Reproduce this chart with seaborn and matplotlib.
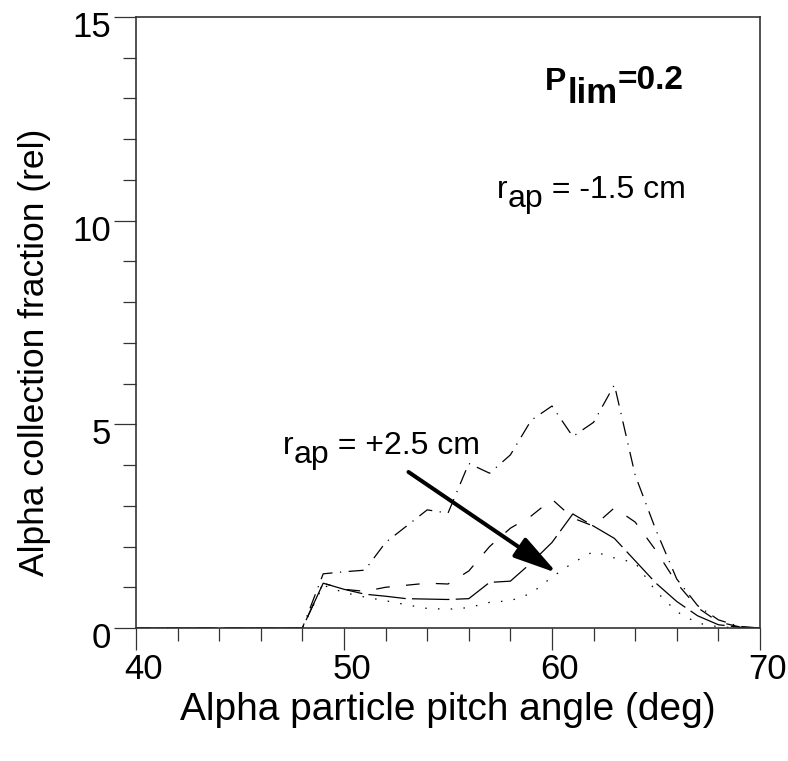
import numpy as np
import pandas as pd
import matplotlib
matplotlib.use("Agg")
import matplotlib.pyplot as plt
import matplotlib.transforms as mtransforms
from matplotlib import font_manager
from matplotlib.ticker import MultipleLocator
import seaborn as sns

# ---- data ----
pitch_angle = [40, 48, 49, 50, 51, 52, 53, 54, 55, 56, 57, 58, 59, 60, 61, 62, 63, 64, 65, 66, 67, 68, 69, 70]
curve_dashdot = [0, 0, 1.33, 1.38, 1.42, 2.1, 2.5, 2.9, 2.82, 4.04, 3.8, 4.25, 5.1, 5.45, 4.7, 5.05, 5.97, 3.75, 2.4, 1.2, 0.55, 0.2, 0.04, 0]
curve_dash = [0, 0, 1.1, 0.95, 0.9, 1.0, 1.05, 1.1, 1.08, 1.4, 2.0, 2.45, 2.75, 3.16, 2.7, 2.5, 2.95, 2.6, 1.9, 1.1, 0.5, 0.15, 0.03, 0]
curve_long = [0, 0, 1.1, 0.95, 0.83, 0.78, 0.72, 0.71, 0.7, 0.72, 1.12, 1.15, 1.6, 2.1, 2.8, 2.5, 2.2, 1.65, 1.1, 0.65, 0.3, 0.08, 0.02, 0]
curve_dot = [0, 0, 1.05, 0.87, 0.76, 0.67, 0.57, 0.48, 0.46, 0.5, 0.63, 0.67, 0.85, 1.25, 1.6, 1.88, 1.72, 1.6, 0.9, 0.4, 0.12, 0.03, 0, 0]
series_names = ["dashdot", "dash", "long", "dot"]

x_label = "Alpha particle pitch angle (deg)"
y_label = "Alpha collection fraction (rel)"

df = pd.concat([
    pd.DataFrame({"angle": pitch_angle, "frac": vals, "series": name})
    for name, vals in zip(series_names, [curve_dashdot, curve_dash, curve_long, curve_dot])
], ignore_index=True)

# ---- style ----
sns.set_style("ticks")
names = {f.name for f in font_manager.fontManager.ttflist}
main_font = "Liberation Sans" if "Liberation Sans" in names else "DejaVu Sans"
plt.rcParams["font.family"] = [main_font, "DejaVu Sans"]
plt.rcParams.update({"text.color": "black", "axes.labelcolor": "black",
                     "xtick.color": "black", "ytick.color": "black"})

fig = plt.figure(figsize=(7.88, 7.61), dpi=100)
ax = fig.add_axes([136 / 788, 1 - 628 / 761, 624 / 788, 611 / 761])

sns.lineplot(data=df, x="angle", y="frac", style="series", ax=ax,
             dashes={"dashdot": (12, 6, 1, 6), "dash": (11, 13), "long": (30, 5), "dot": (1.2, 9)},
             color="black", linewidth=0.9, legend=False, sort=False)

ax.set_xlim(40, 70)
ax.set_ylim(0, 15)
ax.xaxis.set_major_locator(MultipleLocator(10))
ax.xaxis.set_minor_locator(MultipleLocator(2))
ax.yaxis.set_major_locator(MultipleLocator(5))
ax.yaxis.set_minor_locator(MultipleLocator(1))
ax.tick_params(which="major", direction="out", length=16, width=0.9, color="#333333",
               labelsize=25, pad=2)
ax.tick_params(which="minor", direction="out", length=9.5, width=0.9, color="#333333")
offy = mtransforms.ScaledTranslation(0, -7 / 100, fig.dpi_scale_trans)
for lab in ax.get_yticklabels():
    lab.set_transform(lab.get_transform() + offy)
offx = mtransforms.ScaledTranslation(8 / 100, 0, fig.dpi_scale_trans)
for lab in ax.get_xticklabels():
    lab.set_transform(lab.get_transform() + offx)

for sp in ax.spines.values():
    sp.set_visible(True)
    sp.set_linewidth(1.2)
    sp.set_color("#333333")

ax.set_xlabel(x_label, fontsize=28, labelpad=4)
ax.set_ylabel(y_label, fontsize=25.5)
ax.yaxis.set_label_coords(-0.137, 0.452)


def chain(prev, s, dy_px=0.0, dx_px=0.0, **kw):
    return ax.annotate(s, xy=(1, 0), xycoords=prev, xytext=(dx_px * 0.72, dy_px * 0.72),
                       textcoords="offset points", va="bottom", ha="left", **kw)


# annotations
tP = ax.text(0.6554, 0.8805, "P", transform=ax.transAxes, fontsize=23, fontweight="bold",
             va="baseline")
tl = chain(tP, "lim", dy_px=-13, dx_px=1, fontsize=25, fontweight="bold")
chain(tl, "=0.2", dy_px=14, fontsize=24, fontweight="bold")

t1 = ax.text(0.5785, 0.7038, "r", transform=ax.transAxes, fontsize=23, va="baseline")
t2 = chain(t1, "ap", dy_px=-9, fontsize=23)
chain(t2, " = -1.5 cm", dy_px=9, fontsize=23)

t3 = ax.text(0.2356, 0.2848, "r", transform=ax.transAxes, fontsize=23, va="baseline")
t4 = chain(t3, "ap", dy_px=-9, fontsize=23)
chain(t4, " = +2.5 cm", dy_px=9, fontsize=23)

ax.annotate("", xy=(60.24, 1.35), xytext=(53.1, 3.83),
            arrowprops=dict(arrowstyle="-|>,head_length=1.33,head_width=0.35",
                            mutation_scale=20, lw=2.9, color="black",
                            shrinkA=0, shrinkB=0))

fig.savefig("out.png", dpi=100)
